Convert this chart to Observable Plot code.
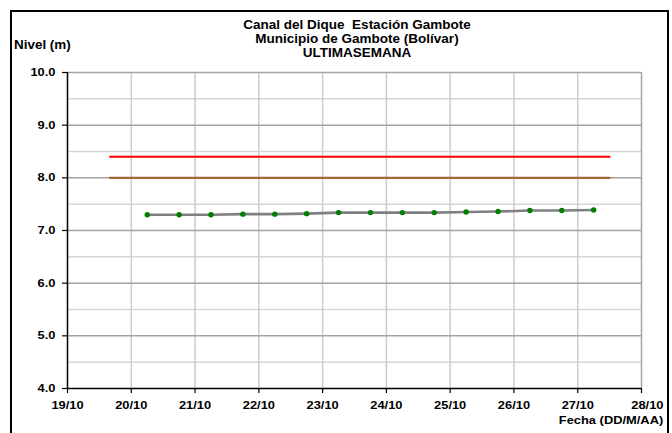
<!DOCTYPE html>
<html><head><meta charset="utf-8">
<script src="https://cdn.jsdelivr.net/npm/d3@7"></script>
<script src="https://cdn.jsdelivr.net/npm/@observablehq/plot@0.6"></script>
<style>
body{margin:0;background:#fff;}
#wrap{position:relative;width:672px;height:433px;overflow:hidden;font-family:"Liberation Sans",Arial,sans-serif;font-weight:bold;color:#000;}
#frame{position:absolute;left:10px;top:9.5px;width:659px;height:440px;border:2.5px solid #000;box-sizing:border-box;}
#chart{position:absolute;left:0;top:0;}
.t{position:absolute;white-space:nowrap;}
#title{left:357px;top:17.5px;font-size:13.5px;line-height:14px;text-align:center;transform:translateX(-50%);}
#ylab{left:14px;top:38px;font-size:12px;line-height:14px;transform:scaleX(1.12);transform-origin:left center;}
#xlab{right:9px;top:413px;font-size:11px;line-height:14px;transform:scaleX(1.17);transform-origin:right center;}
</style></head><body>
<div id="wrap">
<div id="chart"></div>
<div id="frame"></div>
<div class="t" id="title">Canal del Dique&nbsp; Estación Gambote<br>Municipio de Gambote (Bolívar)<br>ULTIMASEMANA</div>
<div class="t" id="ylab">Nivel (m)</div>
<div class="t" id="xlab">Fecha (DD/M/AA)</div>
</div>
<script>
// Data
const fechas = ["2019-10-20T06:00","2019-10-20T18:00","2019-10-21T06:00","2019-10-21T18:00","2019-10-22T06:00","2019-10-22T18:00","2019-10-23T06:00","2019-10-23T18:00","2019-10-24T06:00","2019-10-24T18:00","2019-10-25T06:00","2019-10-25T18:00","2019-10-26T06:00","2019-10-26T18:00","2019-10-27T06:00"];
const niveles = [7.30,7.30,7.30,7.31,7.31,7.32,7.34,7.34,7.34,7.34,7.35,7.36,7.38,7.38,7.39];
const umbralFechas = ["2019-10-19T16:00","2019-10-27T12:00"];
const alertaRoja = 8.4;
const alertaNaranja = 8.0;
const diasEje = ["2019-10-19","2019-10-20","2019-10-21","2019-10-22","2019-10-23","2019-10-24","2019-10-25","2019-10-26","2019-10-27","2019-10-28"];
const nivelesEje = [4,5,6,7,8,9,10];
const nivelesMenores = [4.5,5.5,6.5,7.5,8.5,9.5];

const parse = s => new Date(s + (s.length > 10 ? ":00Z" : "T00:00:00Z"));
const serie = fechas.map((f, i) => ({fecha: parse(f), nivel: niveles[i]}));
const roja = umbralFechas.map(f => ({fecha: parse(f), nivel: alertaRoja}));
const naranja = umbralFechas.map(f => ({fecha: parse(f), nivel: alertaNaranja}));
const dias = diasEje.map(parse);
const fmt = d3.utcFormat("%d/%m");

const chart = Plot.plot({
  width: 672, height: 433,
  marginLeft: 67, marginRight: 31, marginTop: 72, marginBottom: 45,
  style: {fontFamily: "'Liberation Sans', Arial, sans-serif", fontWeight: "bold", fontSize: "11px", color: "#000", background: "transparent", overflow: "visible"},
  x: {type: "utc", domain: [dias[0], dias[dias.length - 1]]},
  y: {domain: [4, 10]},
  marks: [
    Plot.ruleY(nivelesMenores, {stroke: "#d6d6d6", strokeWidth: 1.5}),
    Plot.ruleX(dias.slice(1, -1), {stroke: "#cccccc", strokeWidth: 1.5}),
    Plot.ruleY(nivelesEje.slice(1), {stroke: "#a3a3a3", strokeWidth: 1.5}),
    Plot.ruleX(dias.slice(-1), {stroke: "#a3a3a3", strokeWidth: 1.5}),
    Plot.line(roja, {x: "fecha", y: "nivel", stroke: "#ff0000", strokeWidth: 2}),
    Plot.line(naranja, {x: "fecha", y: "nivel", stroke: "#a0693c", strokeWidth: 2.2}),
    Plot.line(serie, {x: "fecha", y: "nivel", stroke: "#808080", strokeWidth: 2.6}),
    Plot.dot(serie, {x: "fecha", y: "nivel", fill: "#008000", r: 2.7}),
    Plot.axisX({ticks: dias, tickFormat: fmt, tickSize: 5, tickPadding: 8, stroke: "#000", strokeWidth: 1.2, label: null}),
    Plot.axisY({ticks: nivelesEje, tickFormat: d3.format(".1f"), tickSize: 5, tickPadding: 7, stroke: "#000", strokeWidth: 1.2, label: null}),
    Plot.ruleX(dias.slice(0, 1), {stroke: "#000", strokeWidth: 1.5}),
    Plot.ruleY([4], {stroke: "#000", strokeWidth: 1.5})
  ]
});
document.getElementById("chart").appendChild(chart);
chart.querySelectorAll("text").forEach(t => {
  const tr = t.getAttribute("transform") || "";
  t.setAttribute("transform", tr + " scale(1.17,1)");
});
const xLabels = chart.querySelectorAll('g[aria-label="x-axis tick label"] text');
if (xLabels.length) {
  xLabels[xLabels.length - 1].setAttribute("x", "5");
}
</script>
</body></html>
